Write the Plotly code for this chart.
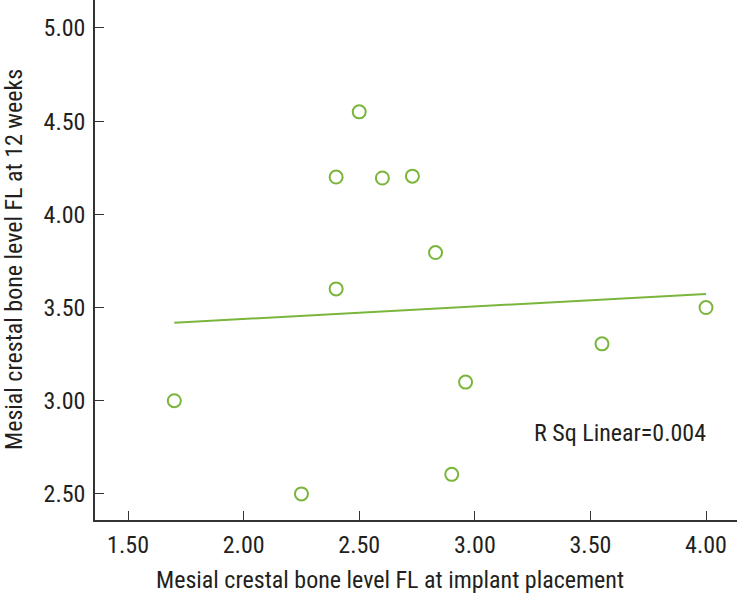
import plotly.graph_objects as go

# Data
x_placement = [1.70, 2.25, 2.40, 2.40, 2.50, 2.60, 2.73, 2.83, 2.90, 2.96, 3.55, 4.00]
y_12weeks = [3.00, 2.50, 4.20, 3.60, 4.55, 4.195, 4.205, 3.795, 2.605, 3.10, 3.305, 3.50]

fit_x = [1.70, 4.00]
fit_y = [3.418, 3.573]

x_ticks = [1.5, 2.0, 2.5, 3.0, 3.5, 4.0]
x_ticklabels = ["1.50", "2.00", "2.50", "3.00", "3.50", "4.00"]
y_ticks = [2.5, 3.0, 3.5, 4.0, 4.5, 5.0]
y_ticklabels = ["2.50", "3.00", "3.50", "4.00", "4.50", "5.00"]

x_title = "Mesial crestal bone level FL at implant placement"
y_title = "Mesial crestal bone level FL at 12 weeks"
r2_text = "R Sq Linear=0.004"

GREEN = "#7AB53C"
TEXT = "#231f20"
FONT = "Roboto Condensed, Liberation Sans, sans-serif"

fig = go.Figure()
fig.add_trace(go.Scatter(
    x=fit_x, y=fit_y, mode="lines",
    line=dict(color=GREEN, width=2), hoverinfo="skip", showlegend=False))
fig.add_trace(go.Scatter(
    x=x_placement, y=y_12weeks, mode="markers",
    marker=dict(symbol="circle-open", size=13, color=GREEN, line=dict(width=2, color=GREEN)),
    showlegend=False))

axis_common = dict(
    showgrid=False, zeroline=False, showline=True, linecolor="#333333", linewidth=1.5,
    ticks="inside", ticklen=9, tickwidth=1.2, tickcolor="#333333",
    tickfont=dict(family=FONT, size=24, color=TEXT),
    mirror=False, automargin=False,
)

fig.update_layout(
    width=737, height=598,
    margin=dict(l=95, r=0, t=0, b=78),
    paper_bgcolor="white", plot_bgcolor="white",
    font=dict(family=FONT, color=TEXT),
    xaxis=dict(range=[1.357, 4.134], tickvals=x_ticks, ticktext=x_ticklabels,
               ticklabelstandoff=2, **axis_common),
    yaxis=dict(range=[2.36, 5.15], tickvals=y_ticks, ticktext=y_ticklabels,
               ticklabelstandoff=3, **axis_common),
    annotations=[
        dict(text=x_title, xref="paper", yref="paper", x=(390 - 95) / 642, y=-0.115,
             xanchor="center", yanchor="middle", showarrow=False,
             font=dict(family=FONT, size=24, color=TEXT)),
        dict(text=y_title, xref="paper", yref="paper", x=(14 - 95) / 642, y=0.5,
             xanchor="center", yanchor="middle", showarrow=False, textangle=-90,
             font=dict(family=FONT, size=24, color=TEXT)),
        dict(text=r2_text, xref="paper", yref="paper", x=(620 - 95) / 642, y=(520 - 433) / 520,
             xanchor="center", yanchor="middle", showarrow=False,
             font=dict(family=FONT, size=24, color=TEXT)),
    ],
)

fig.write_html(
    "out.html",
    config={"displayModeBar": False},
    post_script="document.body.style.margin='0';document.body.style.overflow='hidden';",
)
